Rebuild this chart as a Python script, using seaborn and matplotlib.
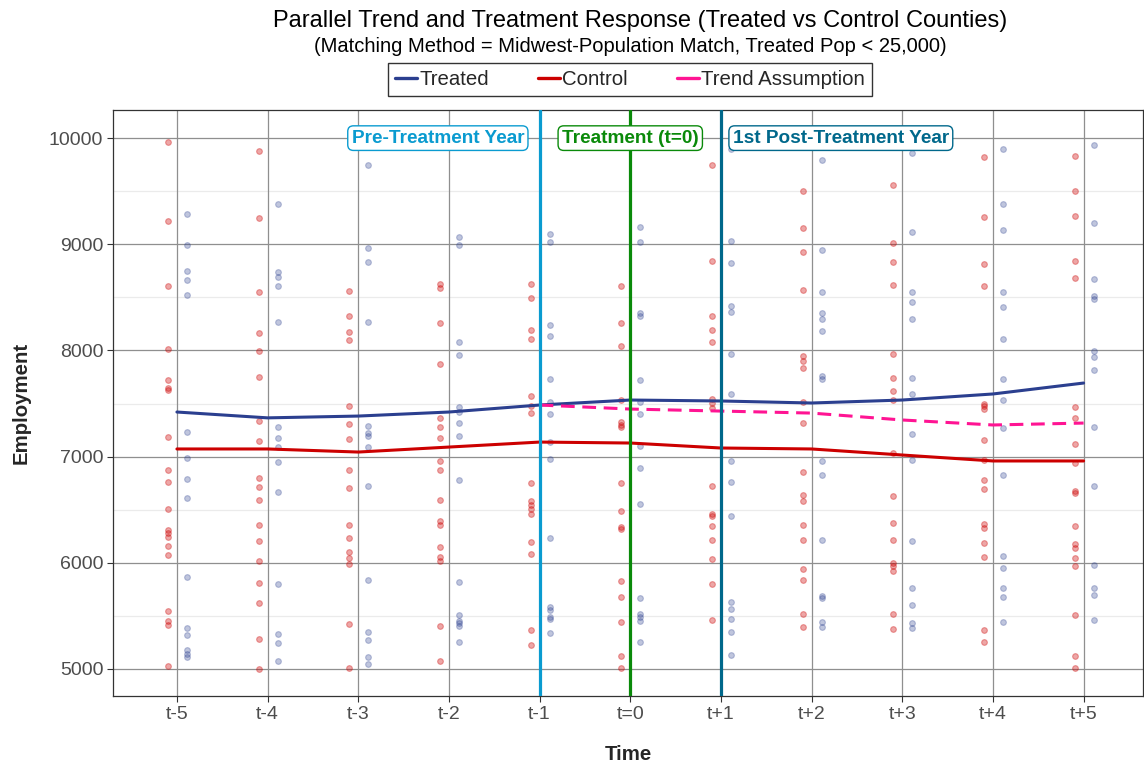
import numpy as np
import pandas as pd
import matplotlib
matplotlib.use("Agg")
import matplotlib.pyplot as plt
import seaborn as sns
from matplotlib.lines import Line2D

# ---- data ---------------------------------------------------------------
periods = ["t-5", "t-4", "t-3", "t-2", "t-1", "t=0", "t+1", "t+2", "t+3", "t+4", "t+5"]

treated_trend = [7420, 7365, 7382, 7420, 7486, 7533, 7524, 7505, 7533, 7590, 7693]
control_trend = [7072, 7072, 7043, 7090, 7137, 7128, 7081, 7072, 7015, 6959, 6959]
assumed_periods = ["t-1", "t=0", "t+1", "t+2", "t+3", "t+4", "t+5"]
assumed_trend = [7486, 7448, 7429, 7410, 7345, 7298, 7316]

control_counties = {
    "t-5": [9967, 9216, 8603, 8017, 7717, 7651, 7628, 7184, 6877, 6762, 6502, 6311,
            6284, 6245, 6156, 6077, 5550, 5454, 5411, 5026],
    "t-4": [9875, 9252, 8551, 8169, 7997, 7754, 7338, 7147, 6795, 6716, 6591, 6354,
            6205, 6021, 5810, 5622, 5280, 5000],
    "t-3": [8557, 8320, 8178, 8096, 7473, 7309, 7167, 6877, 6709, 6354, 6238, 6100,
            6041, 5988, 5425, 5013],
    "t-2": [8630, 8584, 8261, 7872, 7365, 7282, 7180, 6963, 6871, 6591, 6390, 6360,
            6146, 6054, 6018, 5402, 5072],
    "t-1": [8623, 8498, 8188, 8109, 7572, 7480, 7411, 6755, 6584, 6548, 6508, 6459,
            6195, 6087, 5362, 5230],
    "t=0": [8603, 8261, 8043, 7530, 7325, 7299, 7279, 6749, 6492, 6337, 6317, 5826,
            5675, 5441, 5125, 5010],
    "t+1": [9743, 8847, 8320, 8195, 8080, 7539, 7503, 7454, 6722, 6456, 6436, 6344,
            6212, 6037, 5803, 5458],
    "t+2": [9503, 9150, 8926, 8574, 7948, 7905, 7839, 7513, 7319, 6851, 6643, 6581,
            6354, 6219, 5938, 5836, 5513, 5398],
    "t+3": [9559, 9009, 8834, 8620, 7971, 7744, 7622, 7530, 7036, 6630, 6370, 6212,
            6001, 5965, 5922, 5513, 5372],
    "t+4": [9819, 9259, 8817, 8603, 7500, 7474, 7447, 7161, 6970, 6782, 6699, 6363,
            6327, 6185, 6054, 5369, 5253],
    "t+5": [9835, 9503, 9269, 8847, 8682, 7464, 7365, 7121, 6937, 6676, 6653, 6344,
            6179, 6139, 6047, 5968, 5507, 5118, 5010],
}

treated_counties = {
    "t-5": [9288, 8992, 8748, 8666, 8524, 7233, 6986, 6788, 6607, 5866, 5388, 5322,
            5174, 5141, 5115],
    "t-4": [9377, 8735, 8696, 8603, 8267, 7282, 7174, 7095, 6950, 6663, 5803, 5326,
            5243, 5072],
    "t-3": [9743, 8966, 8837, 8264, 7292, 7226, 7193, 7088, 6726, 5840, 5349, 5273,
            5115, 5046],
    "t-2": [9065, 8992, 8080, 7961, 7470, 7424, 7312, 7190, 6778, 5817, 5507, 5454,
            5434, 5402, 5253],
    "t-1": [9101, 9018, 8241, 8136, 7727, 7513, 7404, 7141, 6976, 6238, 5586, 5553,
            5487, 5467, 5339],
    "t=0": [9160, 9018, 8353, 8320, 7717, 7513, 7404, 7101, 6897, 6551, 5668, 5517,
            5487, 5454, 5257],
    "t+1": [9901, 9035, 8824, 8419, 8360, 7964, 7589, 6960, 6759, 6442, 5629, 5563,
            5467, 5346, 5131],
    "t+2": [9792, 8943, 8547, 8350, 8300, 8185, 7760, 7730, 6956, 6831, 6212, 5685,
            5672, 5441, 5395],
    "t+3": [9858, 9117, 8547, 8455, 8297, 7744, 7592, 7213, 6970, 6202, 5764, 5602,
            5434, 5388],
    "t+4": [9901, 9377, 9134, 8547, 8412, 8106, 7734, 7530, 7273, 6831, 6067, 5948,
            5764, 5678, 5444],
    "t+5": [9934, 9200, 8669, 8511, 8485, 7991, 7938, 7813, 7276, 6726, 5975, 5764,
            5698, 5461],
}

marker_periods = ["t-1", "t=0", "t+1"]
marker_labels = ["Pre-Treatment Year", "Treatment (t=0)", "1st Post-Treatment Year"]

# ---- styling ------------------------------------------------------------
C_TREATED = "#2B3F8F"
C_CONTROL = "#CC0000"
C_ASSUME = "#FF1493"
C_MARKERS = ["#0A9BD0", "#0A8A0A", "#00688B"]

sns.set_theme(style="white")
plt.rcParams["font.family"] = ["Liberation Sans", "DejaVu Sans"]

pos = {p: i for i, p in enumerate(periods)}

def long_frame(d, group, shift):
    rows = []
    for p, vals in d.items():
        for v in vals:
            rows.append({"x": pos[p] + shift, "Employment": v, "Group": group})
    return pd.DataFrame(rows)

pts_control = long_frame(control_counties, "Control", -0.1)
pts_treated = long_frame(treated_counties, "Treated", 0.11)

trend = pd.DataFrame({
    "x": list(range(len(periods))) * 2,
    "Employment": treated_trend + control_trend,
    "Group": ["Treated"] * len(periods) + ["Control"] * len(periods),
})
assumed = pd.DataFrame({"x": [pos[p] for p in assumed_periods], "Employment": assumed_trend})

fig = plt.figure(figsize=(11.44, 7.67), dpi=100)
ax = fig.add_axes([113 / 1144, 1 - 696 / 767, 1 - 113 / 1144 - 0.0005, (696 - 110) / 767])

# grid
for y in range(5000, 10001, 1000):
    ax.axhline(y, color="#8f8f8f", lw=0.9, zorder=0)
for y in range(5500, 10001, 1000):
    ax.axhline(y, color="#ebebeb", lw=0.9, zorder=0)
for i in range(len(periods)):
    ax.axvline(i, color="#8f8f8f", lw=0.9, zorder=0)

sns.scatterplot(data=pts_control, x="x", y="Employment", ax=ax, color=C_CONTROL,
                s=17, alpha=0.35, edgecolor=C_CONTROL, linewidth=0.8, legend=False, zorder=2)
sns.scatterplot(data=pts_treated, x="x", y="Employment", ax=ax, color=C_TREATED,
                s=17, alpha=0.3, edgecolor=C_TREATED, linewidth=0.8, legend=False, zorder=2)

sns.lineplot(data=trend, x="x", y="Employment", hue="Group",
             palette={"Treated": C_TREATED, "Control": C_CONTROL},
             lw=2.2, ax=ax, legend=False, zorder=3)
sns.lineplot(data=assumed, x="x", y="Employment", color=C_ASSUME, lw=2.2,
             ax=ax, legend=False, zorder=3, dashes=False, linestyle=(0, (4.5, 2.5)))

for p, lab, col in zip(marker_periods, marker_labels, C_MARKERS):
    xi = pos[p]
    ax.axvline(xi, color=col, lw=2.3, zorder=4)
    if p == "t-1":
        tx, ha = xi - 0.17, "right"
    elif p == "t=0":
        tx, ha = xi, "center"
    else:
        tx, ha = xi + 0.13, "left"
    ax.text(tx, 10000, lab, ha=ha, va="center", color=col, fontsize=13.7,
            fontweight="bold", zorder=6,
            bbox=dict(boxstyle="round,pad=0.2,rounding_size=0.3", fc="white",
                      ec=col, lw=1.0))

ax.set_xlim(-0.705, 10.66)
ax.set_ylim(4745, 10265)
ax.set_xticks(range(len(periods)))
ax.set_xticklabels(periods)
ax.set_yticks(range(5000, 10001, 1000))
ax.tick_params(axis="both", labelsize=14, colors="#4d4d4d", length=4, width=0.8,
               direction="out", bottom=True, left=True, pad=3)
ax.tick_params(axis="both", color="#333333")
ax.set_xlabel("Time", fontsize=14.7, fontweight="bold", labelpad=16)
ax.set_ylabel("Employment", fontsize=14.7, fontweight="bold", labelpad=13)
for s in ax.spines.values():
    s.set_color("#333333")
    s.set_linewidth(0.9)

fig.text(640 / 1144, 1 - 21 / 767, "Parallel Trend and Treatment Response (Treated vs Control Counties)",
         ha="center", va="center", fontsize=17, color="black")
fig.text(630 / 1144, 1 - 46 / 767, "(Matching Method = Midwest-Population Match, Treated Pop < 25,000)",
         ha="center", va="center", fontsize=14.5, color="black")

handles = [Line2D([], [], color=C_TREATED, lw=2.4),
           Line2D([], [], color=C_CONTROL, lw=2.4),
           Line2D([], [], color=C_ASSUME, lw=2.4)]
leg = fig.legend(handles, ["Treated", "Control", "Trend Assumption"], loc="center",
                 bbox_to_anchor=(630 / 1144, 1 - 79.5 / 767), ncol=3, fontsize=14.7,
                 frameon=True, fancybox=False, handlelength=1.1, handletextpad=0.1,
                 columnspacing=2.4, borderpad=0.35)
leg.get_frame().set_edgecolor("black")
leg.get_frame().set_linewidth(1.0)

fig.savefig("out.png", dpi=100)
